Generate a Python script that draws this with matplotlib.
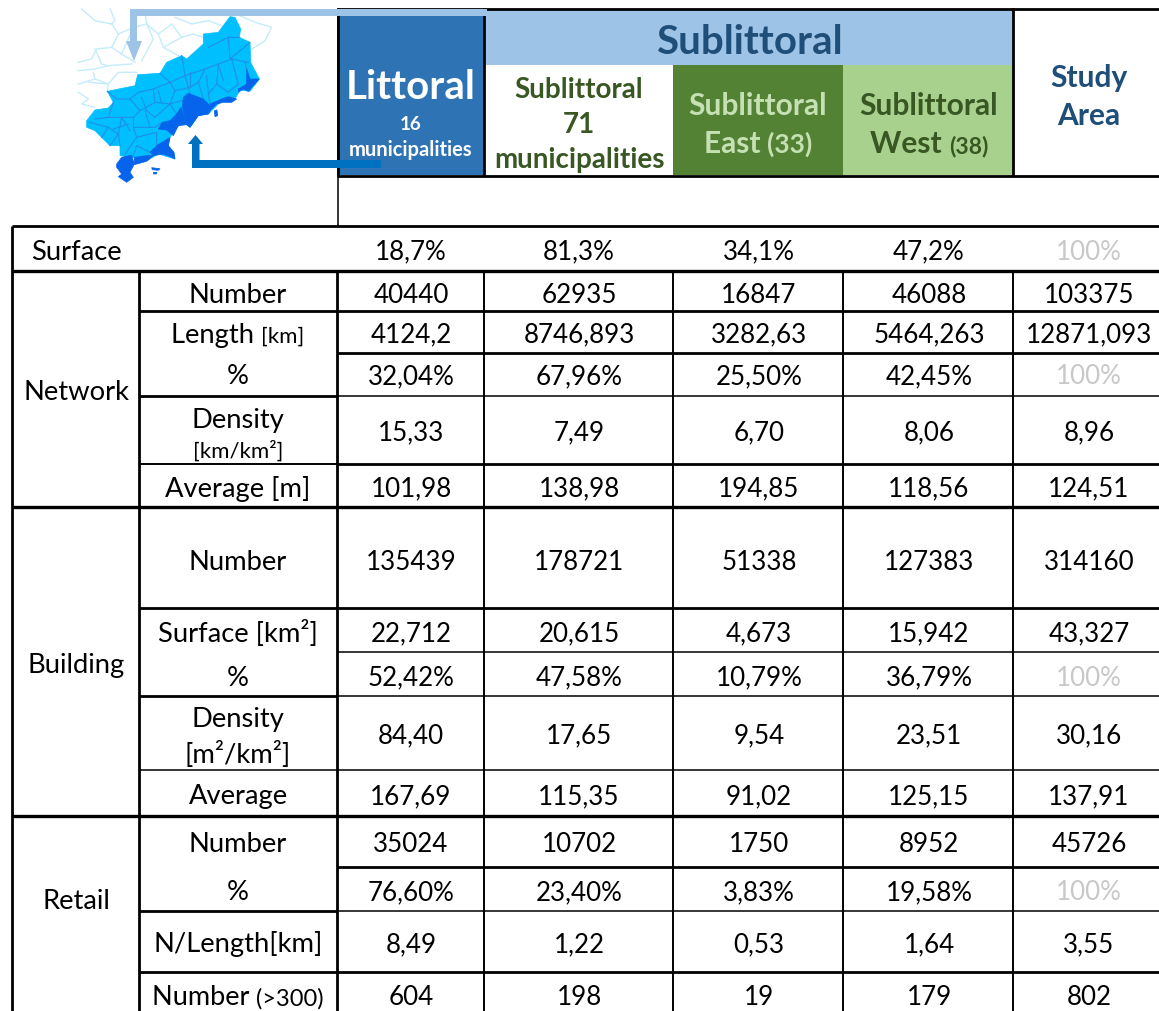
import matplotlib
matplotlib.use('Agg')
import matplotlib.pyplot as plt
from matplotlib.patches import Polygon, Rectangle

plt.rcParams['font.family'] = ['Lato', 'DejaVu Sans']

# table content
row_labels = ['Surface', 'Number', 'Length', '%', 'Density', 'Average [m]', 'Number', 'Surface [km²]', '%',
              'Density', 'Average', 'Number', '%', 'N/Length[km]', 'Number']
littoral = ['18,7%', '40440', '4124,2', '32,04%', '15,33', '101,98', '135439', '22,712', '52,42%', '84,40',
            '167,69', '35024', '76,60%', '8,49', '604']
sublittoral = ['81,3%', '62935', '8746,893', '67,96%', '7,49', '138,98', '178721', '20,615', '47,58%', '17,65',
               '115,35', '10702', '23,40%', '1,22', '198']
sub_east = ['34,1%', '16847', '3282,63', '25,50%', '6,70', '194,85', '51338', '4,673', '10,79%', '9,54',
            '91,02', '1750', '3,83%', '0,53', '19']
sub_west = ['47,2%', '46088', '5464,263', '42,45%', '8,06', '118,56', '127383', '15,942', '36,79%', '23,51',
            '125,15', '8952', '19,58%', '1,64', '179']
study_area = ['100%', '103375', '12871,093', '100%', '8,96', '124,51', '314160', '43,327', '100%', '30,16',
              '137,91', '45726', '100%', '3,55', '802']
groups = ['Network', 'Building', 'Retail']

# layout, in pixels of the picture
col_x = [12, 139, 337, 484, 673, 843, 1013, 1159]
row_y = [227, 272, 312, 354, 397, 465, 508, 609, 653, 697, 771, 817, 868, 912, 973, 1012]
row_mid = [250, 293, 333, 375, 431, 487, 560, 632, 676, 734, 795, 843, 891, 943, 996]
group_y = [391, 663, 900]
col_mid = [411, 579, 759, 929, 1089]

# map shapes, in 3x crop coordinates
map_all = [(35, 350), (60, 318), (100, 312), (115, 295), (97, 262), (180, 245), (188, 212), (255, 208), (275, 175),
           (320, 155), (335, 165), (385, 120), (385, 90), (430, 85), (465, 38), (480, 40), (497, 75), (493, 100),
           (525, 115), (527, 175), (553, 225), (525, 262), (495, 258), (480, 285), (440, 290), (410, 320), (400, 330),
           (370, 335), (345, 370), (325, 355), (300, 375), (285, 400), (280, 425), (297, 450), (300, 465), (250, 450),
           (215, 470), (175, 460), (135, 455), (135, 425), (105, 425), (80, 400), (60, 380), (35, 370)]
map_dark = [
    [(325, 280), (340, 268), (385, 285), (400, 300), (410, 312), (400, 330), (370, 335), (345, 370), (335, 362), (322, 310)],
    [(318, 310), (335, 362), (310, 365), (295, 395), (275, 378), (250, 375), (262, 355), (285, 350), (305, 330)],
    [(285, 400), (280, 425), (297, 445), (300, 465), (285, 458), (265, 450), (235, 455), (225, 445), (245, 425)],
    [(125, 480), (140, 460), (170, 453), (178, 480), (165, 505), (175, 520), (155, 535), (130, 518), (140, 510), (125, 490)],
    [(178, 460), (215, 455), (235, 455), (215, 472), (178, 482)],
    [(410, 315), (405, 300), (440, 285), (460, 278), (485, 285), (470, 295), (445, 295), (425, 300)],
    [(490, 255), (515, 240), (515, 195), (525, 225), (553, 225), (530, 250), (520, 262), (505, 255), (490, 265)],
    [(230, 491), (255, 494), (250, 499), (232, 497)],
    [(235, 505), (246, 505), (244, 510), (236, 510)],
    [(418, 320), (426, 318), (428, 335), (420, 338)],
]
map_borders = [
    [(97, 262), (125, 285), (165, 285), (190, 265), (235, 255), (285, 235), (330, 215), (390, 195), (430, 180), (470, 165), (520, 175)],
    [(115, 295), (100, 340), (60, 345)],
    [(100, 340), (140, 340), (175, 340), (175, 370), (240, 370), (262, 355)],
    [(165, 285), (195, 320), (175, 340)],
    [(235, 255), (240, 295), (195, 320)],
    [(240, 295), (285, 300), (305, 330)],
    [(285, 235), (300, 260), (285, 300)],
    [(330, 215), (345, 268)],
    [(390, 195), (370, 235), (385, 285)],
    [(430, 180), (425, 240), (400, 270), (405, 300)],
    [(470, 165), (490, 240)],
    [(460, 100), (465, 165)],
    [(400, 130), (460, 100), (493, 100)],
    [(320, 155), (330, 215)],
    [(255, 208), (285, 235)],
    [(140, 340), (130, 390), (105, 425)],
    [(100, 370), (130, 390), (135, 425)],
    [(175, 370), (185, 400), (150, 450)],
    [(185, 400), (245, 385), (245, 425)],
    [(175, 455), (185, 425), (225, 445)],
    [(45, 355), (100, 370)],
    [(80, 400), (100, 370)],
    [(140, 340), (165, 380)],
    [(115, 375), (160, 360)],
    [(210, 320), (225, 370)],
    [(285, 300), (320, 290)],
    [(300, 260), (345, 250), (370, 235)],
    [(345, 205), (345, 250)],
    [(395, 215), (400, 270)],
    [(425, 240), (460, 265), (490, 240)],
    [(430, 180), (445, 230)],
    [(465, 165), (525, 115)],
    [(510, 175), (515, 195)],
    [(260, 300), (250, 260)],
    [(200, 280), (215, 320)],
    [(215, 320), (240, 340)],
    [(240, 340), (285, 300)],
]
map_pale = [
    [(10, 175), (50, 165), (65, 135), (110, 130), (140, 150), (165, 165), (180, 175)],
    [(10, 200), (60, 195), (100, 185), (170, 180)],
    [(10, 240), (60, 225), (55, 205)],
    [(40, 235), (100, 240), (130, 205), (185, 205)],
    [(10, 265), (40, 285), (20, 300), (60, 310)],
    [(20, 15), (60, 50), (110, 60), (130, 90), (175, 70), (215, 60), (250, 90), (290, 60), (320, 100), (355, 90), (385, 100)],
    [(105, 15), (120, 50), (110, 60)],
    [(210, 20), (215, 60), (235, 105), (200, 170)],
    [(250, 90), (265, 130), (310, 155)],
    [(300, 40), (350, 60), (400, 50), (440, 65)],
    [(495, 35), (540, 55), (590, 70), (570, 110), (530, 135)],
    [(60, 135), (80, 180), (100, 185)],
    [(110, 130), (125, 100), (130, 90)],
    [(140, 150), (175, 70)],
    [(265, 130), (320, 100)],
    [(60, 225), (100, 240), (97, 262)],
]


def mapxy(pts):
    return [(75 + p[0] / 3, 5 + p[1] / 3) for p in pts]


def hline(y, x0, x1, lw=1.0):
    ax.plot([x0, x1], [y, y], color='black', lw=lw, solid_capstyle='butt', zorder=5)


def vline(x, y0, y1, lw=1.0):
    ax.plot([x, x], [y0, y1], color='black', lw=lw, solid_capstyle='butt', zorder=5)


def mixed(xc, y, parts, color, weight='normal'):
    # one line with several font sizes, centred on xc
    items = [ax.text(0, y, s, fontsize=fs, color=color, fontweight=weight, va='baseline', ha='left', zorder=8) for s, fs in parts]
    rend = fig.canvas.get_renderer()
    widths = [t.get_window_extent(rend).width for t in items]
    x = xc - sum(widths) / 2
    for t, w in zip(items, widths):
        t.set_x(x)
        x += w


fig = plt.figure(figsize=(11.59, 10.12), dpi=100)
ax = fig.add_axes([0, 0, 1, 1])
ax.set_xlim(0, 1159)
ax.set_ylim(1012, 0)
ax.axis('off')

# the map
for line in map_pale:
    pts = mapxy(line)
    ax.plot([p[0] for p in pts], [p[1] for p in pts], color='#c4ecfb', lw=1.0, zorder=1)
ax.add_patch(Polygon(mapxy(map_all), closed=True, fc='#00bfff', ec='#00bfff', lw=0.5, zorder=2))
for line in map_borders:
    pts = mapxy(line)
    ax.plot([p[0] for p in pts], [p[1] for p in pts], color='#1f8fe6', lw=0.8, zorder=2.5)
for shape in map_dark:
    ax.add_patch(Polygon(mapxy(shape), closed=True, fc='#0563ec', ec='#0563ec', lw=0.5, zorder=3))

# header cells
ax.add_patch(Rectangle((338, 10), 146, 166, fc='#2e74b5', ec='none', zorder=2))
ax.add_patch(Rectangle((485, 10), 528, 56, fc='#9dc3e6', ec='none', zorder=2))
ax.add_patch(Rectangle((673, 66), 170, 110, fc='#548235', ec='none', zorder=2))
ax.add_patch(Rectangle((843, 66), 170, 110, fc='#a9d18e', ec='none', zorder=2))

# header and table lines
thick = 2.0
thin = 1.1
hline(9.5, 337, 1159, thick)
hline(177, 337, 1159, thick)
vline(337.5, 9, 227, thin)
vline(337.5, 9, 177, thick)
vline(484, 9, 177, thick)
vline(1013, 9, 177, thick)

hline(row_y[0], 12, 1159, thick)
for y in [row_y[1], row_y[6], row_y[11]]:
    hline(y, 12, 1159, thick + 0.4)
# lines of the label column and the value columns differ in weight
label_lines = {312: thick, 397: thick, 465: thin + 0.3, 609: thick, 697: thick, 771: thin, 912: thick, 973: thick}
value_lines = {312: thick, 354: thick, 397: thin, 465: thick, 609: thick, 653: thin, 697: thin, 771: thin, 868: thick,
               912: thin, 973: thick}
for y, lw in label_lines.items():
    hline(y, col_x[1], col_x[2], lw)
for y, lw in value_lines.items():
    hline(y, col_x[2], col_x[7], lw)
vline(col_x[0], row_y[0], 1012, thick)
vline(col_x[1], row_y[1], 1012, thick)
vline(col_x[2], row_y[1], 1012, thick)
for x in col_x[3:7]:
    vline(x, row_y[1], 1012, thin + 0.3)

# arrows
ax.add_patch(Polygon([(487, 10), (130, 10), (130, 42), (126, 42), (134, 62), (142, 42), (137, 42), (137, 17), (487, 17)],
                     closed=True, fc='#9dc3e6', ec='none', zorder=6))
ax.add_patch(Polygon([(381, 161), (199.5, 161), (199.5, 145), (203, 145), (195.5, 136), (188, 145), (192, 145), (192, 169), (381, 169)],
                     closed=True, fc='#0070c0', ec='none', zorder=6))

# header text
dark_green = '#385723'
pale_green = '#c5e0b3'
navy = '#1f4e79'
ax.text(411, 99, 'Littoral', fontsize=29, fontweight='bold', color='white', ha='center', va='baseline', zorder=8)
ax.text(411, 130, '16', fontsize=13.5, fontweight='bold', color='white', ha='center', va='baseline', zorder=8)
ax.text(411, 156, 'municipalities', fontsize=14.5, fontweight='bold', color='white', ha='center', va='baseline', zorder=8)
ax.text(749, 54, 'Sublittoral', fontsize=29, fontweight='bold', color=navy, ha='center', va='baseline', zorder=8)
ax.text(579, 98, 'Sublittoral', fontsize=20, fontweight='bold', color=dark_green, ha='center', va='baseline', zorder=8)
ax.text(579, 133, '71', fontsize=20, fontweight='bold', color=dark_green, ha='center', va='baseline', zorder=8)
ax.text(579, 168, 'municipalities', fontsize=20, fontweight='bold', color=dark_green, ha='center', va='baseline', zorder=8)
ax.text(758, 115, 'Sublittoral', fontsize=21.5, fontweight='bold', color=pale_green, ha='center', va='baseline', zorder=8)
mixed(758, 153, [('East ', 21.5), ('(33)', 19)], pale_green, 'bold')
ax.text(929, 115, 'Sublittoral', fontsize=21.5, fontweight='bold', color=dark_green, ha='center', va='baseline', zorder=8)
mixed(929, 153, [('West ', 21.5), ('(38)', 16.5)], dark_green, 'bold')
ax.text(1089, 87, 'Study', fontsize=21.5, fontweight='bold', color=navy, ha='center', va='baseline', zorder=8)
ax.text(1089, 125, 'Area', fontsize=21.5, fontweight='bold', color=navy, ha='center', va='baseline', zorder=8)

# table text
fs = 19.7
fv = 18.7
base = 9.5
ax.text(31, row_mid[0] + base, row_labels[0], fontsize=fs, ha='left', va='baseline', color='black', zorder=8)
for i in range(1, len(row_labels)):
    if i == 2:
        mixed(238, row_mid[i] + base, [('Length ', fs), ('[km]', 16)], 'black')
    elif i == 4:
        ax.text(238, 428, 'Density', fontsize=fs, ha='center', va='baseline', zorder=8)
        ax.text(238, 458, '[km/km²]', fontsize=16, ha='center', va='baseline', zorder=8)
    elif i == 9:
        ax.text(238, 727, 'Density', fontsize=fs, ha='center', va='baseline', zorder=8)
        ax.text(238, 763, '[m²/km²]', fontsize=fs, ha='center', va='baseline', zorder=8)
    elif i == 14:
        mixed(238, row_mid[i] + base, [('Number ', 19.5), ('(>300)', 17)], 'black')
    else:
        ax.text(238, row_mid[i] + base, row_labels[i], fontsize=fs, ha='center', va='baseline', zorder=8)

for name, y in zip(groups, group_y):
    ax.text(76, y + base, name, fontsize=fs, ha='center', va='baseline', zorder=8)

for x, values in zip(col_mid, [littoral, sublittoral, sub_east, sub_west, study_area]):
    for i, v in enumerate(values):
        c = '#c8c8c8' if v == '100%' else 'black'
        ax.text(x, row_mid[i] + base, v, fontsize=fv, ha='center', va='baseline', color=c, zorder=8)

fig.savefig('out.png', dpi=100)
